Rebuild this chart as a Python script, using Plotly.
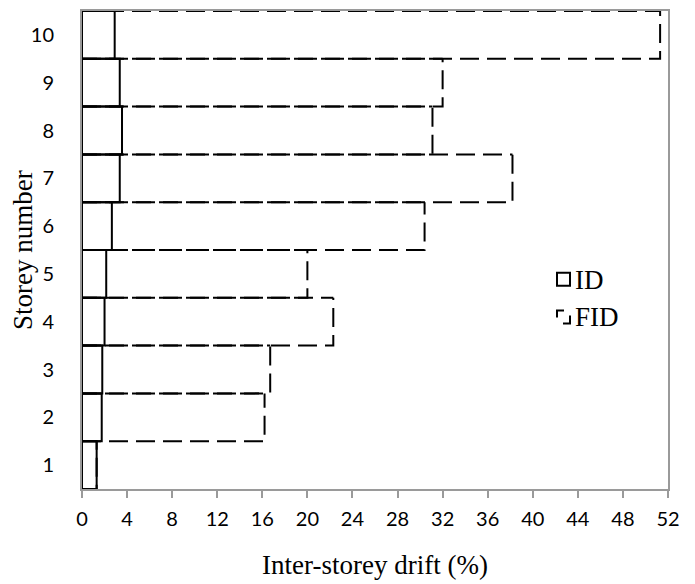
import plotly.graph_objects as go

storeys = [1, 2, 3, 4, 5, 6, 7, 8, 9, 10]
id_drift = [1.3, 1.75, 1.8, 2.0, 2.15, 2.65, 3.35, 3.55, 3.35, 2.9]
fid_drift = [1.3, 16.2, 16.7, 22.3, 20.0, 30.4, 38.2, 31.1, 32.0, 51.3]
x_ticks = list(range(0, 53, 4))

W, H = 695, 584
L, R, T, B = 82, 27, 9, 93


def lower_right(values, cats, half=0.5):
    # bottom edge and right edge of each bar, as separate sub-paths
    xs, ys = [], []
    for v, c in zip(values, cats):
        xs += [0, v, v, None]
        ys += [c - half, c - half, c + half, None]
    return xs, ys


def top_edge(values, cats, half=0.5):
    xs, ys = [], []
    for v, c in zip(values, cats):
        xs += [0, v, None]
        ys += [c + half, c + half, None]
    return xs, ys


def full_rect(values, cats, half=0.5):
    xs, ys = [], []
    for v, c in zip(values, cats):
        xs += [0, v, v, 0, 0, None]
        ys += [c - half, c - half, c + half, c + half, c - half, None]
    return xs, ys


fig = go.Figure()
fx, fy = lower_right(fid_drift, storeys)
fig.add_trace(go.Scatter(x=fx, y=fy, mode="lines", name="FID",
                         line=dict(color="black", width=2, dash="19px,8px"),
                         showlegend=False, hoverinfo="skip"))
tx, ty = top_edge(fid_drift, storeys)
fig.add_trace(go.Scatter(x=tx, y=ty, mode="lines", name="FID top",
                         line=dict(color="black", width=2, dash="15px,8px,4px,0px"),
                         showlegend=False, hoverinfo="skip"))
ix, iy = full_rect(id_drift, storeys)
fig.add_trace(go.Scatter(x=ix, y=iy, mode="lines", name="ID",
                         line=dict(color="black", width=2),
                         showlegend=False, hoverinfo="skip"))


def px(x):
    return (x - L) / (W - L - R)


def py(y):
    return (H - B - y) / (H - T - B)


shapes = []
# ID legend icon (solid square)
shapes.append(dict(type="rect", xref="paper", yref="paper",
                   x0=px(557), x1=px(570), y0=py(286), y1=py(273),
                   line=dict(color="black", width=2)))
# FID legend icon (dashed square corners)
shapes.append(dict(type="path", xref="paper", yref="paper",
                   path=f"M{px(557)},{py(318)} L{px(557)},{py(311)} L{px(564)},{py(311)}",
                   line=dict(color="black", width=2)))
shapes.append(dict(type="path", xref="paper", yref="paper",
                   path=f"M{px(563)},{py(324)} L{px(570)},{py(324)} L{px(570)},{py(316)}",
                   line=dict(color="black", width=2)))

annotations = [
    dict(text="ID", xref="paper", yref="paper", x=px(573), y=py(280), xanchor="left",
         yanchor="middle", showarrow=False,
         font=dict(family="Liberation Serif", size=27, color="black")),
    dict(text="FID", xref="paper", yref="paper", x=px(573), y=py(318), xanchor="left",
         yanchor="middle", showarrow=False,
         font=dict(family="Liberation Serif", size=27, color="black")),
    dict(text="Storey number", xref="paper", yref="paper", x=px(23), y=py(250),
         xanchor="center", yanchor="middle", textangle=-90, showarrow=False,
         font=dict(family="Liberation Serif", size=27, color="black")),
]

fig.update_layout(
    width=W, height=H,
    margin=dict(l=L, r=R, t=T, b=B),
    paper_bgcolor="white", plot_bgcolor="white",
    shapes=shapes, annotations=annotations,
    showlegend=False,
)
fig.update_xaxes(
    range=[0, 52], tickvals=x_ticks, ticktext=[str(t) for t in x_ticks],
    showgrid=False, zeroline=False,
    showline=True, linecolor="#9a9a9a", linewidth=2, mirror=True,
    ticks="outside", ticklen=7, tickcolor="#9a9a9a", tickwidth=1.5,
    ticklabelstandoff=4,
    tickfont=dict(family="Lato", size=20, color="black"),
    title=dict(text="Inter-storey drift (%)", standoff=26,
               font=dict(family="Liberation Serif", size=27, color="black")),
)
fig.update_yaxes(
    range=[0.5, 10.5], tickvals=storeys, ticktext=[str(s) for s in storeys],
    showgrid=False, zeroline=False,
    showline=True, linecolor="#9a9a9a", linewidth=2, mirror=True,
    ticks="", ticklabelstandoff=22,
    tickfont=dict(family="Lato", size=20, color="black"),
)

fig.write_html("out.html")
